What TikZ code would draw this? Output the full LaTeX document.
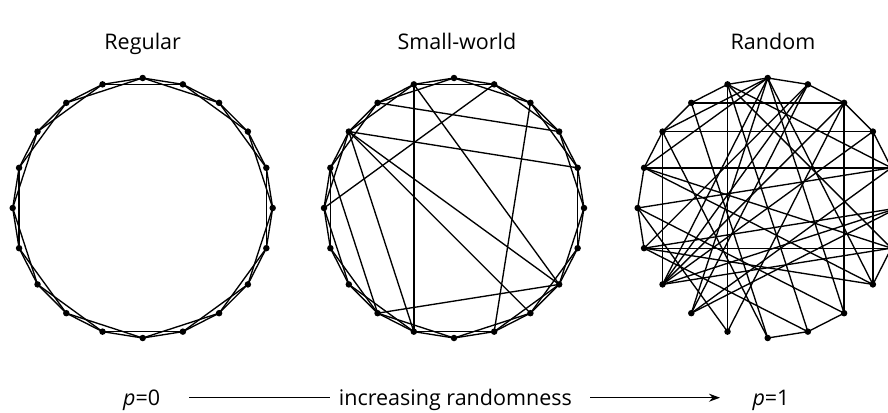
\documentclass[tikz,border=0pt]{standalone}
\usepackage{fontspec}
\setmainfont{Open Sans}
\usetikzlibrary{arrows.meta}
\begin{document}
\begin{tikzpicture}[x=1pt,y=-1pt,
  edge/.style={line width=1.35pt, black},
  dot/.style={circle, fill=black, inner sep=0pt, minimum size=6.5pt},
  lbl/.style={font=\fontsize{21.5}{26}\selectfont, anchor=base, inner sep=0pt},
  axis/.style={line width=1.3pt},
]
\useasboundingbox (0,0) rectangle (888,412);
\clip (0,0) rectangle (888,412);
% vertices
\foreach \g/\cx in {A/142.7, B/454, C/767.7} {
  \foreach \k in {0,...,19} {
    \node[dot] (\g\k) at ({\cx+130*cos(18*\k)}, {208-130*sin(18*\k)}) {};
  }
}
% Regular lattice
\foreach \k in {0,...,19} {
  \pgfmathtruncatemacro{\a}{mod(\k+1,20)}
  \pgfmathtruncatemacro{\b}{mod(\k+2,20)}
  \draw[edge] (A\k.center) -- (A\a.center);
  \draw[edge] (A\k.center) -- (A\b.center);
}
% Small-world
\foreach \k in {0,...,19} {
  \pgfmathtruncatemacro{\a}{mod(\k+1,20)}
  \draw[edge] (B\k.center) -- (B\a.center);
}
\foreach \p/\q in {4/6,5/7,3/5,2/4,1/3,0/2,19/1,18/0,17/19,16/18,15/17,14/16,13/15,12/14,11/13,10/12,9/11,8/10,7/9,6/8,
  6/14,7/2,8/1,4/10,6/18,8/18,8/17,3/16,8/14,13/18,9/13} {
  \draw[edge] (B\p.center) -- (B\q.center);
}
% Random
\foreach \p/\q in {5/6,5/4,6/7,7/8,8/9,9/10,10/11,4/3,3/2,2/1,15/16,16/17,18/19,
  6/14,8/12,3/17,2/18,7/3,8/2,9/1,12/19,9/19,5/12,5/13,5/17,5/9,6/1,4/13,4/11,10/1,
  11/18,11/16,12/0,12/2,13/1,14/10,15/8,6/16,7/15,14/3,17/10,11/0,
  5/8,5/18,4/12,3/12,11/19,9/18,13/0,6/19} {
  \draw[edge] (C\p.center) -- (C\q.center);
}
% titles
\node[lbl] (t1) at (142.7,50) {Regular};
\node[lbl] (t2) at (457,50) {Small-world};
\node[lbl] (t3) at (773,50) {Random};
% bottom axis
\node[lbl] (p0) at (141.7,405) {\textit{p}=0};
\node[lbl] (inc) at (455.4,405) {increasing randomness};
\node[lbl] (p1) at (771,405) {\textit{p}=1};
\coordinate (l1) at (189.3,397.7);
\coordinate (l2) at (330,397.7);
\coordinate (l3) at (590,397.7);
\coordinate (l4) at (720,397.7);
\draw[axis] (l1) -- (l2);
\draw[axis,-{Stealth[length=11pt,width=8pt]}] (l3) -- (l4);
\end{tikzpicture}
\end{document}
